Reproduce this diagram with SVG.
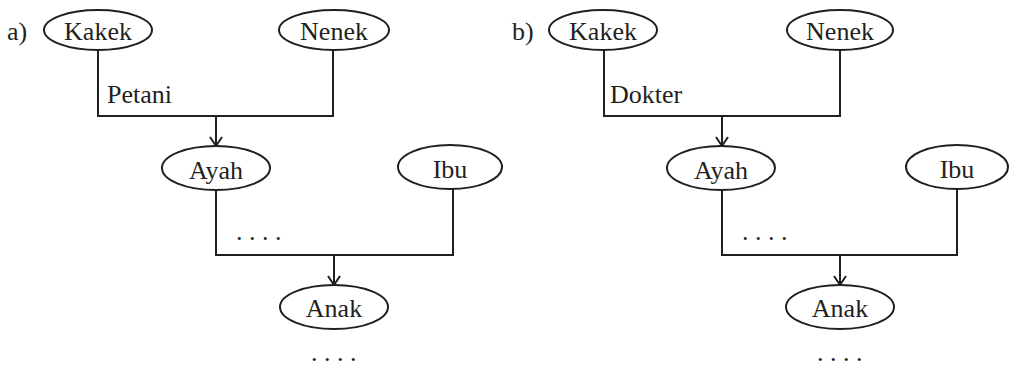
<svg xmlns="http://www.w3.org/2000/svg" width="1010" height="368" viewBox="0 0 1010 368">
<style>
text{font-family:"Liberation Serif","Times New Roman",serif;font-size:26px;fill:#231f20}
.n ellipse{fill:#fff;stroke:#231f20;stroke-width:2}
.n text{text-anchor:middle}
.c path{fill:none;stroke:#231f20;stroke-width:2}
</style>
<defs>
<marker id="ar" markerWidth="14" markerHeight="16" viewBox="-11 -8 13 16" refX="0" refY="0" orient="auto" markerUnits="userSpaceOnUse">
<path d="M-9,-6 L0,0 L-9,6" fill="none" stroke="#231f20" stroke-width="2"/>
</marker>
</defs>
<g id="connectors" class="c">
<path d="M98,50 V116 H333 V50"/>
<path d="M216,116 V146" marker-end="url(#ar)"/>
<path d="M216,190 V255 H453 V189"/>
<path d="M334,255 V285" marker-end="url(#ar)"/>
<path d="M604,50 V116 H840 V50"/>
<path d="M722,116 V146" marker-end="url(#ar)"/>
<path d="M722,190 V255 H957 V189"/>
<path d="M840,255 V285" marker-end="url(#ar)"/>
</g>
<g id="labels">
<text x="7" y="40">a)</text>
<text x="512" y="40">b)</text>
<text x="107" y="103">Petani</text>
<text x="610" y="103">Dokter</text>
<text x="236" y="240">. . . .</text>
<text x="742" y="240">. . . .</text>
<text x="311" y="361">. . . .</text>
<text x="817" y="361">. . . .</text>
</g>
<g id="kakek-a" class="n"><ellipse cx="98" cy="30" rx="54" ry="20"/><text x="98" y="40">Kakek</text></g>
<g id="nenek-a" class="n"><ellipse cx="334" cy="30" rx="55" ry="20"/><text x="334" y="40">Nenek</text></g>
<g id="ayah-a" class="n"><ellipse cx="216" cy="168" rx="54" ry="22"/><text x="216" y="179">Ayah</text></g>
<g id="ibu-a" class="n"><ellipse cx="450" cy="167" rx="52" ry="22"/><text x="450" y="178">Ibu</text></g>
<g id="anak-a" class="n"><ellipse cx="334" cy="307" rx="54" ry="22"/><text x="334" y="317">Anak</text></g>
<g id="kakek-b" class="n"><ellipse cx="603" cy="30" rx="54" ry="20"/><text x="603" y="40">Kakek</text></g>
<g id="nenek-b" class="n"><ellipse cx="840" cy="30" rx="53" ry="20"/><text x="840" y="40">Nenek</text></g>
<g id="ayah-b" class="n"><ellipse cx="721" cy="168" rx="54" ry="22"/><text x="721" y="179">Ayah</text></g>
<g id="ibu-b" class="n"><ellipse cx="957" cy="167" rx="51" ry="22"/><text x="957" y="178">Ibu</text></g>
<g id="anak-b" class="n"><ellipse cx="840" cy="307" rx="54" ry="22"/><text x="840" y="317">Anak</text></g>
</svg>
